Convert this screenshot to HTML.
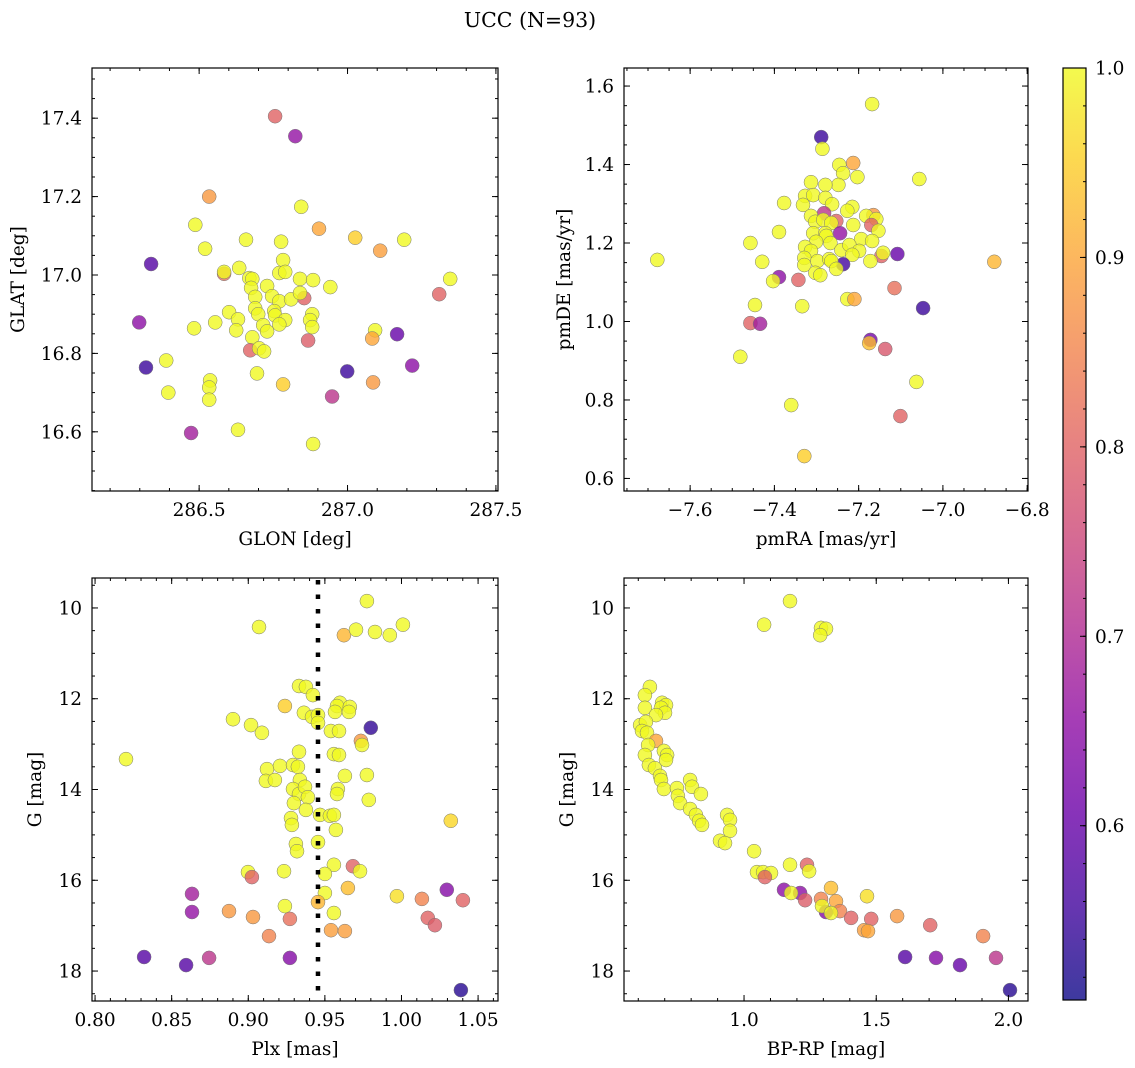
<!DOCTYPE html>
<html><head><meta charset="utf-8"><style>
html,body{margin:0;padding:0;background:#fff;}
svg{display:block;font-family:"DejaVu Serif","Liberation Serif",serif;}
</style></head><body>
<svg id="fig" width="1135" height="1068" viewBox="0 0 1135 1068" xmlns="http://www.w3.org/2000/svg">
<text x="530" y="27" font-size="20.5" text-anchor="middle">UCC (N=93)</text>
</svg>
<script>
// ---- Panel 1: GLON / GLAT ----
const glon = [286.756,286.824,286.534,286.844,286.904,286.487,287.026,286.658,286.776,287.110,287.191,286.520,286.338,286.783,286.584,286.584,286.635,286.770,286.790,286.840,286.884,286.942,287.346,287.309,286.854,286.669,286.679,286.675,286.729,286.689,286.746,286.770,286.810,286.840,286.689,286.699,286.753,286.756,286.790,286.770,286.716,286.729,286.601,286.631,286.625,286.554,286.483,286.881,286.874,286.881,286.867,287.093,287.083,287.167,286.679,286.672,286.702,286.719,286.389,286.321,286.298,286.695,286.537,286.534,286.534,286.396,286.783,286.999,287.086,286.948,287.218,286.473,286.631,286.884];
const glat = [17.405,17.354,17.200,17.174,17.118,17.128,17.095,17.090,17.085,17.062,17.090,17.067,17.028,17.038,17.003,17.008,17.018,17.005,17.008,16.990,16.987,16.969,16.990,16.951,16.941,16.992,16.990,16.967,16.972,16.944,16.946,16.933,16.938,16.954,16.915,16.900,16.908,16.897,16.885,16.874,16.872,16.856,16.905,16.887,16.859,16.879,16.864,16.900,16.885,16.867,16.833,16.859,16.838,16.849,16.841,16.808,16.813,16.805,16.782,16.764,16.879,16.749,16.731,16.713,16.682,16.700,16.721,16.754,16.726,16.690,16.769,16.597,16.605,16.569];
const prob1 = [0.80,0.66,0.88,1,0.90,1,0.95,1,1,0.89,1,1,0.58,1,0.82,1,1,1,1,1,1,1,1,0.80,0.80,1,1,1,1,1,1,1,1,1,1,1,1,1,1,1,1,1,1,1,1,1,1,1,1,1,0.79,1,0.90,0.60,1,0.80,1,1,1,0.55,0.65,1,1,1,1,1,0.95,0.55,0.88,0.72,0.65,0.68,1,1];
// ---- Panel 2: pmRA / pmDE ----
const pmra = [-7.168,-7.289,-7.286,-7.246,-7.213,-7.237,-7.203,-7.248,-7.056,-7.313,-7.279,-7.327,-7.308,-7.279,-7.377,-7.332,-7.263,-7.215,-7.227,-7.165,-7.282,-7.253,-7.182,-7.158,-7.170,-7.313,-7.303,-7.284,-7.265,-7.213,-7.153,-7.389,-7.244,-7.308,-7.279,-7.277,-7.267,-7.301,-7.194,-7.168,-7.457,-7.327,-7.313,-7.241,-7.222,-7.199,-7.215,-7.146,-7.142,-7.108,-7.329,-7.329,-7.298,-7.270,-7.237,-7.265,-7.253,-7.172,-7.678,-6.878,-7.429,-7.303,-7.291,-7.389,-7.403,-7.343,-7.115,-7.227,-7.210,-7.334,-7.446,-7.047,-7.457,-7.434,-7.172,-7.175,-7.137,-7.481,-7.063,-7.360,-7.101,-7.329];
const pmde = [1.554,1.470,1.440,1.399,1.404,1.378,1.368,1.348,1.363,1.355,1.348,1.320,1.322,1.315,1.302,1.297,1.299,1.292,1.282,1.271,1.276,1.256,1.269,1.261,1.246,1.269,1.254,1.259,1.251,1.246,1.231,1.228,1.225,1.225,1.225,1.218,1.200,1.203,1.210,1.205,1.200,1.190,1.180,1.182,1.195,1.180,1.170,1.167,1.175,1.172,1.162,1.144,1.154,1.159,1.146,1.154,1.134,1.154,1.157,1.152,1.152,1.124,1.118,1.113,1.103,1.106,1.085,1.057,1.057,1.039,1.042,1.034,0.996,0.994,0.953,0.945,0.930,0.910,0.846,0.787,0.759,0.657];
const prob2 = [1,0.55,1,1,0.90,1,1,1,1,1,1,1,1,1,1,1,1,1,1,0.88,0.72,0.80,1,1,0.80,1,1,1,1,1,1,1,0.66,1,1,1,1,1,1,1,1,1,1,1,1,1,1,0.80,1,0.60,1,1,1,1,0.56,1,1,1,1,0.92,1,1,1,0.65,1,0.80,0.82,1,0.90,1,1,0.55,0.80,0.68,0.62,0.93,0.78,1,1,1,0.80,0.95];
// ---- Panel 3: Plx / G ----
const plx = [0.9774,0.907,0.9624,0.9703,0.9827,0.9924,1.0009,0.9331,0.9376,0.9422,0.9239,0.9598,0.9579,0.9663,0.9657,0.9566,0.9363,0.9416,0.9455,0.9455,0.8900,0.9018,0.9089,0.9800,0.9539,0.9592,0.9735,0.9742,0.8202,0.9331,0.9559,0.9592,0.9122,0.9207,0.9292,0.9324,0.9115,0.9174,0.9631,0.9774,0.9337,0.9292,0.9331,0.9370,0.9389,0.9585,0.9579,0.9787,0.9298,0.9376,0.9468,0.9533,0.9559,0.9279,0.9285,0.9572,1.0322,0.9311,0.9318,0.9455,0.9559,0.9683,0.9729,0.9500,0.8998,0.9024,0.9233,0.9650,0.9500,0.9970,0.8633,1.0296,1.0133,1.0401,0.9455,0.9239,0.8633,0.8874,0.9031,0.9559,0.9272,1.0172,1.0218,0.9135,0.9540,0.9631,0.8320,0.8594,0.8744,0.9272,1.0388];
const gmag3 = [9.85,10.42,10.60,10.48,10.53,10.60,10.37,11.72,11.74,11.92,12.16,12.09,12.16,12.18,12.29,12.29,12.31,12.40,12.36,12.53,12.45,12.58,12.75,12.64,12.71,12.71,12.93,13.02,13.33,13.17,13.22,13.24,13.55,13.48,13.46,13.50,13.81,13.79,13.70,13.68,13.79,13.99,14.10,13.94,14.17,13.99,14.10,14.23,14.30,14.45,14.56,14.58,14.56,14.63,14.78,14.89,14.69,15.20,15.36,15.16,15.66,15.69,15.80,15.86,15.82,15.93,15.80,16.17,16.28,16.35,16.30,16.21,16.41,16.44,16.48,16.57,16.70,16.68,16.81,16.72,16.85,16.83,16.99,17.23,17.10,17.12,17.69,17.87,17.71,17.71,18.42];
const prob3 = [1,1,0.92,1,1,1,1,1,1,1,0.95,1,1,1,1,1,1,1,1,1,1,1,1,0.54,1,1,0.88,1,1,1,1,1,1,1,1,1,1,1,1,1,1,1,1,1,1,1,1,1,1,1,1,1,1,1,1,1,0.96,1,1,1,1,0.80,1,1,1,0.80,1,0.93,1,0.97,0.68,0.64,0.85,0.80,0.92,1,0.66,0.88,0.88,1,0.82,0.80,0.79,0.85,0.89,0.89,0.58,0.58,0.72,0.64,0.53];
const plxMean = [0.9455];
// ---- Panel 4: BP-RP / G ----
const bprp = [1.174,1.076,1.291,1.310,1.288,0.644,0.625,0.625,0.690,0.705,0.686,0.701,0.667,0.607,0.629,0.614,0.633,0.667,0.637,0.697,0.709,0.705,0.625,0.640,0.663,0.682,0.686,0.697,0.796,0.803,0.837,0.746,0.750,0.758,0.796,0.818,0.830,0.841,0.936,0.947,0.947,0.909,0.928,1.038,1.174,1.238,1.246,1.049,1.072,1.102,1.079,1.151,1.212,1.178,1.231,1.291,1.329,1.348,1.363,1.310,1.295,1.329,1.405,1.481,1.465,1.579,1.454,1.469,1.704,1.904,1.609,1.726,1.817,1.953,2.006];
const gmag4 = [9.85,10.37,10.44,10.46,10.60,11.74,11.92,12.20,12.09,12.14,12.20,12.31,12.36,12.58,12.51,12.71,12.75,12.93,13.02,13.15,13.24,13.35,13.24,13.46,13.53,13.70,13.79,13.99,13.79,13.94,14.10,13.97,14.14,14.30,14.43,14.56,14.69,14.78,14.56,14.67,14.91,15.13,15.18,15.36,15.66,15.66,15.80,15.82,15.82,15.84,15.93,16.21,16.28,16.28,16.44,16.41,16.17,16.46,16.68,16.70,16.57,16.72,16.83,16.85,16.35,16.79,17.10,17.12,16.99,17.23,17.69,17.71,17.87,17.71,18.42];
const prob4 = [1,1,1,1,1,1,1,1,1,1,1,1,1,1,1,1,1,0.90,1,1,1,1,1,1,1,1,1,1,1,1,1,1,1,1,1,1,1,1,1,1,1,1,1,1,1,0.80,1,1,1,1,0.80,0.65,0.65,1,0.79,0.85,0.93,0.90,0.85,0.64,1,1,0.80,0.80,0.97,0.88,0.89,0.90,0.80,0.85,0.58,0.64,0.60,0.72,0.53];
// ---- colorbar ----
const cbTicks = [0.6,0.7,0.8,0.9,1.0];
const cbMin = 0.508, cbMax = 1.0;

const NS = "http://www.w3.org/2000/svg";
const svg = document.getElementById('fig');
const FS = 18.5;
function mk(tag, attrs, parent){
  const e = document.createElementNS(NS, tag);
  for (const k in attrs) e.setAttribute(k, attrs[k]);
  (parent||svg).appendChild(e);
  return e;
}
const stops = [[0,13,8,135],[0.1,65,4,157],[0.2,106,0,168],[0.3,143,13,164],[0.4,177,42,144],[0.5,204,71,120],[0.6,225,100,98],[0.7,242,132,75],[0.8,252,166,54],[0.9,252,206,37],[1,240,249,33]];
function plasma(t){
  t = Math.max(0, Math.min(1, t));
  for (let i=1;i<stops.length;i++){
    if (t <= stops[i][0]){
      const a = stops[i-1], b = stops[i], f = (t-a[0])/(b[0]-a[0]);
      return 'rgb(' + [1,2,3].map(j=>Math.round(a[j]+(b[j]-a[j])*f)).join(',') + ')';
    }
  }
  return 'rgb(240,249,33)';
}
function colorOf(p){ return plasma((p-cbMin)/(cbMax-cbMin)); }

function fmt(v, d){ const s = v.toFixed(d); return v < 0 ? '\u2212' + s.slice(1) : s; }

function panel(cfg){
  const g = mk('g', {});
  
  
  const L=cfg.box[0], T=cfg.box[1], R=cfg.box[2], B=cfg.box[3];
  const sx = v => L + (v - cfg.xd[0])/(cfg.xd[1]-cfg.xd[0])*(R-L);
  const sy = cfg.yinv ? (v => T + (v - cfg.yd[0])/(cfg.yd[1]-cfg.yd[0])*(B-T))
                      : (v => B - (v - cfg.yd[0])/(cfg.yd[1]-cfg.yd[0])*(B-T));
  const pts = mk('g', {}, g);
  
  
  for (let i=0;i<cfg.x.length;i++){
    const c = mk('circle', {cx: sx(cfg.x[i]).toFixed(1), cy: sy(cfg.y[i]).toFixed(1), r: 7, fill: colorOf(cfg.p[i]), 'fill-opacity': 0.8, stroke: '#777', 'stroke-width': 0.5}, pts);
    
    
  }
  if (cfg.vline){
    for (const v of cfg.vline){
      const l = mk('line', {x1: sx(v), x2: sx(v), y1: T+2, y2: B, stroke: '#000', 'stroke-width': 4.5, 'stroke-dasharray': '4.5,10'}, g);
      
      
    }
  }
  const frame = mk('rect', {x:L, y:T, width:R-L, height:B-T, fill:'none', stroke:'#000', 'stroke-width':1.2}, g);
  
  
  const eps = 1e-9;
  const tk = mk('g', {stroke:'#000','stroke-width':1}, g);
  function each(lo, hi, step, fn){
    const s = Math.ceil((lo-eps)/step);
    for (let k=s; k*step <= hi+eps; k++) fn(+(k*step).toFixed(6));
  }
  const xlo = Math.min(...cfg.xd), xhi = Math.max(...cfg.xd);
  const ylo = Math.min(...cfg.yd), yhi = Math.max(...cfg.yd);
  each(xlo, xhi, cfg.xminor, v => { const x=sx(v); mk('line',{x1:x,x2:x,y1:B,y2:B-3},tk); mk('line',{x1:x,x2:x,y1:T,y2:T+3},tk); });
  each(ylo, yhi, cfg.yminor, v => { const y=sy(v); mk('line',{x1:L,x2:L+3,y1:y,y2:y},tk); mk('line',{x1:R,x2:R-3,y1:y,y2:y},tk); });
  each(xlo, xhi, cfg.xmajor, v => {
    const x=sx(v); mk('line',{x1:x,x2:x,y1:B,y2:B-6},tk); mk('line',{x1:x,x2:x,y1:T,y2:T+6},tk);
    const t = mk('text',{x:x, y:B+25, 'font-size':FS, 'text-anchor':'middle'}, g);
    t.textContent = fmt(v, cfg.xdec);
    
    
  });
  each(ylo, yhi, cfg.ymajor, v => {
    const y=sy(v); mk('line',{x1:L,x2:L+6,y1:y,y2:y},tk); mk('line',{x1:R,x2:R-6,y1:y,y2:y},tk);
    const t = mk('text',{x:L-10, y:y+6.5, 'font-size':FS, 'text-anchor':'end'}, g);
    t.textContent = fmt(v, cfg.ydec);
    
    
  });
  const xl = mk('text',{x:(L+R)/2, y:B+54, 'font-size':FS, 'text-anchor':'middle'}, g);
  xl.textContent = cfg.xlabel;
  
  
  const yl = mk('text',{x:0, y:0, 'font-size':FS, 'text-anchor':'middle', transform:'translate(' + cfg.ylx + ',' + ((T+B)/2) + ') rotate(-90)'}, g);
  yl.textContent = cfg.ylabel;
  
  
}

panel({name:'position-panel', box:[92,68,498,491], xd:[286.139,287.507], yd:[16.449,17.528], x:glon, y:glat, p:prob1,
  xmajor:0.5, xminor:0.1, ymajor:0.2, yminor:0.05, xdec:1, ydec:1, xlabel:'GLON [deg]', ylabel:'GLAT [deg]', ylx:24});
panel({name:'proper-motion-panel', box:[624,68,1028,491], xd:[-7.757,-6.798], yd:[0.568,1.646], x:pmra, y:pmde, p:prob2,
  xmajor:0.2, xminor:0.05, ymajor:0.2, yminor:0.05, xdec:1, ydec:1, xlabel:'pmRA [mas/yr]', ylabel:'pmDE [mas/yr]', ylx:570});
panel({name:'parallax-panel', box:[92,578,498,1001], xd:[0.798,1.063], yd:[9.34,18.66], yinv:true, x:plx, y:gmag3, p:prob3, vline:plxMean,
  xmajor:0.05, xminor:0.01, ymajor:2, yminor:0.5, xdec:2, ydec:0, xlabel:'Plx [mas]', ylabel:'G [mag]', ylx:41});
panel({name:'cmd-panel', box:[624,578,1028,1001], xd:[0.546,2.074], yd:[9.34,18.66], yinv:true, x:bprp, y:gmag4, p:prob4,
  xmajor:0.5, xminor:0.1, ymajor:2, yminor:0.5, xdec:1, ydec:0, xlabel:'BP-RP [mag]', ylabel:'G [mag]', ylx:573});

(function(){
  const L=1063, R=1086, T=68, B=1000;
  const g = mk('g', {});
  
  
  const defs = mk('defs', {}, g);
  const lg = mk('linearGradient', {id:'cbg', x1:0, y1:1, x2:0, y2:0}, defs);
  for (let i=0;i<=20;i++){
    const f = i/20;
    mk('stop', {offset: f, 'stop-color': plasma(f), 'stop-opacity': 0.8}, lg);
  }
  mk('rect', {x:L, y:T, width:R-L, height:B-T, fill:'url(#cbg)', stroke:'#000', 'stroke-width':1.2}, g);
  const sy = v => B - (v-cbMin)/(cbMax-cbMin)*(B-T);
  for (let k=26; k<=50; k++){
    const v = k*0.02; if (v < cbMin) continue;
    const y = sy(v); mk('line', {x1:R, x2:R-3, y1:y, y2:y, stroke:'#000'}, g);
  }
  for (const v of cbTicks){
    const y = sy(v);
    mk('line', {x1:R, x2:R-6, y1:y, y2:y, stroke:'#000'}, g);
    const t = mk('text', {x:R+9, y:y+6.5, 'font-size':FS}, g);
    t.textContent = v.toFixed(1);
    
    
  }
})();
</script>
</body></html>
